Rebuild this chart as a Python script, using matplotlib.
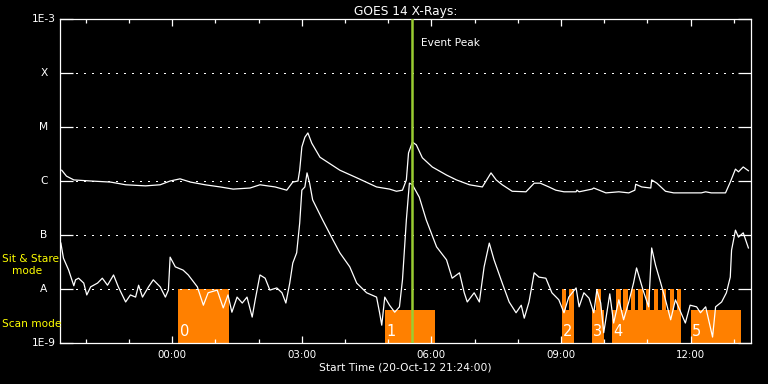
#!/usr/bin/env python3
"""
GOES 14 X-ray flux plot with observing-mode bars (scan / sit & stare)
"""

import numpy as np
import matplotlib
matplotlib.use('Agg')
import matplotlib.pyplot as plt
from matplotlib.ticker import FixedLocator, NullLocator

# time axis: hours relative to 00:00 on 21-Oct-12
t_start = -2.6   # 21:24 on 20-Oct
t_end = 13.4

# long channel (1-8 A), log10 flux
long_t = [-2.56, -2.45, -2.28, -1.89, -1.43, -1.08, -0.62, -0.28, -0.05, 0.18,
          0.42, 0.76, 1.11, 1.41, 1.80, 2.03, 2.38, 2.65, 2.79, 2.91,
          2.95, 3.00, 3.07, 3.14, 3.23, 3.42, 3.88, 4.27, 4.73, 5.03,
          5.19, 5.33, 5.42, 5.47, 5.56, 5.65, 5.79, 6.02, 6.35, 6.58,
          6.88, 7.18, 7.38, 7.50, 7.64, 7.87, 8.19, 8.38, 8.52, 8.72,
          8.88, 9.07, 9.35, 9.37, 9.42, 9.72, 9.76, 10.04, 10.34, 10.57,
          10.71, 10.73, 10.87, 11.08, 11.10, 11.22, 11.42, 11.61, 12.25, 12.35,
          12.48, 12.81, 12.92, 13.04, 13.11, 13.22, 13.34]
long_log = [-5.80, -5.91, -5.98, -6.00, -6.02, -6.07, -6.09, -6.07, -6.00, -5.96,
            -6.02, -6.07, -6.11, -6.15, -6.13, -6.07, -6.11, -6.17, -6.02, -6.00,
            -5.80, -5.37, -5.19, -5.11, -5.30, -5.56, -5.80, -5.94, -6.11, -6.15,
            -6.19, -6.17, -5.98, -5.48, -5.28, -5.33, -5.57, -5.74, -5.89, -5.98,
            -6.07, -6.11, -5.85, -5.98, -6.07, -6.19, -6.20, -6.04, -6.04, -6.11,
            -6.17, -6.20, -6.20, -6.17, -6.20, -6.15, -6.13, -6.22, -6.20, -6.22,
            -6.17, -6.06, -6.11, -6.13, -5.98, -6.04, -6.19, -6.22, -6.22, -6.20,
            -6.22, -6.22, -6.02, -5.78, -5.83, -5.74, -5.81]

# short channel (0.5-4 A), log10 flux
short_t = [-2.58, -2.52, -2.40, -2.28, -2.24, -2.17, -2.05, -1.98, -1.89, -1.73,
           -1.62, -1.50, -1.36, -1.25, -1.08, -0.97, -0.85, -0.78, -0.69, -0.55,
           -0.44, -0.28, -0.16, -0.09, -0.05, 0.07, 0.25, 0.37, 0.58, 0.72,
           0.83, 1.04, 1.18, 1.29, 1.38, 1.50, 1.62, 1.73, 1.85, 1.92,
           2.03, 2.15, 2.26, 2.42, 2.54, 2.63, 2.72, 2.79, 2.88, 2.95,
           3.00, 3.07, 3.12, 3.18, 3.25, 3.48, 3.72, 3.88, 4.11, 4.27,
           4.50, 4.73, 4.80, 4.85, 4.92, 5.03, 5.15, 5.26, 5.33, 5.42,
           5.49, 5.56, 5.72, 5.88, 6.12, 6.35, 6.48, 6.65, 6.76, 6.83,
           6.99, 7.11, 7.22, 7.34, 7.45, 7.64, 7.80, 7.96, 8.08, 8.15,
           8.26, 8.38, 8.49, 8.65, 8.79, 8.95, 9.07, 9.18, 9.35, 9.42,
           9.53, 9.65, 9.76, 9.83, 9.92, 9.99, 10.13, 10.22, 10.34, 10.45,
           10.57, 10.68, 10.75, 10.83, 10.90, 11.03, 11.10, 11.19, 11.31, 11.42,
           11.54, 11.65, 11.72, 11.88, 11.99, 12.14, 12.23, 12.35, 12.51, 12.58,
           12.72, 12.83, 12.92, 12.95, 13.04, 13.11, 13.22, 13.34]
short_log = [-7.15, -7.43, -7.65, -7.94, -7.83, -7.80, -7.89, -8.11, -7.96, -7.89,
             -7.80, -7.93, -7.74, -7.96, -8.24, -8.11, -8.15, -7.93, -8.15, -7.96,
             -7.83, -7.96, -8.15, -8.02, -7.41, -7.59, -7.65, -7.74, -7.96, -8.30,
             -8.07, -8.02, -8.35, -8.11, -8.43, -8.15, -8.26, -8.15, -8.52, -8.20,
             -7.74, -7.80, -8.02, -7.98, -8.07, -8.26, -7.89, -7.52, -7.33, -6.78,
             -6.17, -6.11, -5.85, -6.04, -6.35, -6.72, -7.09, -7.33, -7.59, -7.89,
             -8.07, -8.15, -8.44, -8.67, -8.15, -8.30, -8.43, -8.33, -7.83, -6.72,
             -6.04, -6.07, -6.30, -6.72, -7.22, -7.46, -7.80, -7.70, -8.07, -8.24,
             -8.07, -8.24, -7.59, -7.15, -7.46, -7.89, -8.24, -8.44, -8.30, -8.54,
             -8.24, -7.70, -7.78, -7.80, -8.07, -8.20, -8.44, -8.15, -7.98, -8.33,
             -8.07, -8.17, -8.44, -8.02, -8.26, -8.81, -8.09, -8.63, -8.20, -8.57,
             -8.24, -7.89, -7.61, -7.83, -8.02, -8.33, -7.24, -7.56, -7.89, -8.20,
             -8.57, -8.20, -8.33, -8.63, -8.30, -8.33, -8.44, -8.33, -8.89, -8.33,
             -8.24, -8.07, -7.78, -7.28, -6.91, -7.04, -6.96, -7.24]

event_peak = 5.55

# observing modes (hours)
scan_start = [4.92, 9.02, 9.72, 10.19, 12.00]
scan_end = [6.09, 9.30, 9.99, 11.79, 13.18]
stare_start = [0.14, 9.02, 9.19, 9.82, 10.27, 10.44, 10.61, 10.79, 10.96, 11.15, 11.33, 11.52, 11.68]
stare_end = [1.31, 9.11, 9.30, 9.92, 10.38, 10.55, 10.72, 10.90, 11.07, 11.25, 11.44, 11.61, 11.79]
segment_start = [0.14, 4.92, 9.02, 9.72, 10.19, 12.00]
segment_names = ['0', '1', '2', '3', '4', '5']

scan_level = 4.1e-9
stare_level = 1e-8

y_ticks = [1e-9, 1e-8, 1e-7, 1e-6, 1e-5, 1e-4, 1e-3]
y_labels = ['1E-9', 'A', 'B', 'C', 'M', 'X', '1E-3']
x_ticks = [0, 3, 6, 9, 12]
x_labels = ['00:00', '03:00', '06:00', '09:00', '12:00']

ORANGE = '#ff8000'
FS = 7.7

fig = plt.figure(figsize=(7.68, 3.84), dpi=100, facecolor='black')
W, H = 768.0, 384.0
ax = fig.add_axes([60 / W, 1 - 343 / H, 691 / W, 324 / H], facecolor='black')
ax.set_yscale('log')
ax.set_xlim(t_start, t_end)
ax.set_ylim(1e-9, 1e-3)

# mode bars
for s, e in zip(scan_start, scan_end):
    ax.bar(s, scan_level - 1e-9, width=e - s, bottom=1e-9, align='edge',
           color=ORANGE, linewidth=0, zorder=1)
for s, e in zip(stare_start, stare_end):
    ax.bar(s, stare_level - 1e-9, width=e - s, bottom=1e-9, align='edge',
           color=ORANGE, linewidth=0, zorder=1)
for s, name in zip(segment_start, segment_names):
    ax.text(s + 0.03, 1.6e-9, name, color='white', fontsize=10.5,
            ha='left', va='center', zorder=3)

# dotted grid at flare-class levels
for lev in y_ticks[1:-1]:
    ax.axhline(lev, color='white', lw=0.9, ls=(0, (1, 5)), zorder=2,
               antialiased=False)

ax.plot(long_t, 10 ** np.array(long_log), color='white', lw=0.9, zorder=4)
ax.plot(short_t, 10 ** np.array(short_log), color='white', lw=0.9, zorder=4)

ax.axvline(event_peak, color='#9acd32', lw=1.8, zorder=5)
ax.text(event_peak + 0.22, 10 ** -3.45, 'Event Peak', color='white',
        fontsize=7.6, ha='left', va='center')

# axes styling
for sp in ax.spines.values():
    sp.set_color('white')
    sp.set_linewidth(0.9)
ax.xaxis.set_major_locator(FixedLocator(x_ticks))
ax.xaxis.set_minor_locator(FixedLocator(np.arange(-2, 14)))
ax.set_xticklabels(x_labels)
ax.yaxis.set_major_locator(FixedLocator(y_ticks))
ax.yaxis.set_minor_locator(NullLocator())
ax.set_yticklabels([])
ax.tick_params(axis='x', which='major', direction='in', length=5, width=0.9,
               colors='white', top=True, labelsize=7.4, pad=5)
ax.tick_params(axis='x', which='minor', direction='in', length=2.6, width=0.9,
               colors='white', top=True)
ax.tick_params(axis='y', which='major', direction='in', length=9.4, width=0.9,
               colors='white', right=True)

ytr = ax.get_yaxis_transform()
for v, lab in zip(y_ticks, y_labels):
    ax.text((44 - 60) / 691, v, lab, transform=ytr, color='white', fontsize=FS,
            ha='center', va='center', clip_on=False)

ax.set_xlabel('Start Time (20-Oct-12 21:24:00)', color='white', fontsize=FS, labelpad=1.5)
ax.set_title('GOES 14 X-Rays:', color='white', fontsize=8.8, pad=3)

fig.text(2 / W, 1 - 259 / H, 'Sit & Stare', color='yellow', fontsize=7.6,
         ha='left', va='center')
fig.text(12 / W, 1 - 271 / H, 'mode', color='yellow', fontsize=7.6,
         ha='left', va='center')
fig.text(2 / W, 1 - 324 / H, 'Scan mode', color='yellow', fontsize=7.6,
         ha='left', va='center')

fig.savefig('out.png', dpi=100, facecolor='black')
